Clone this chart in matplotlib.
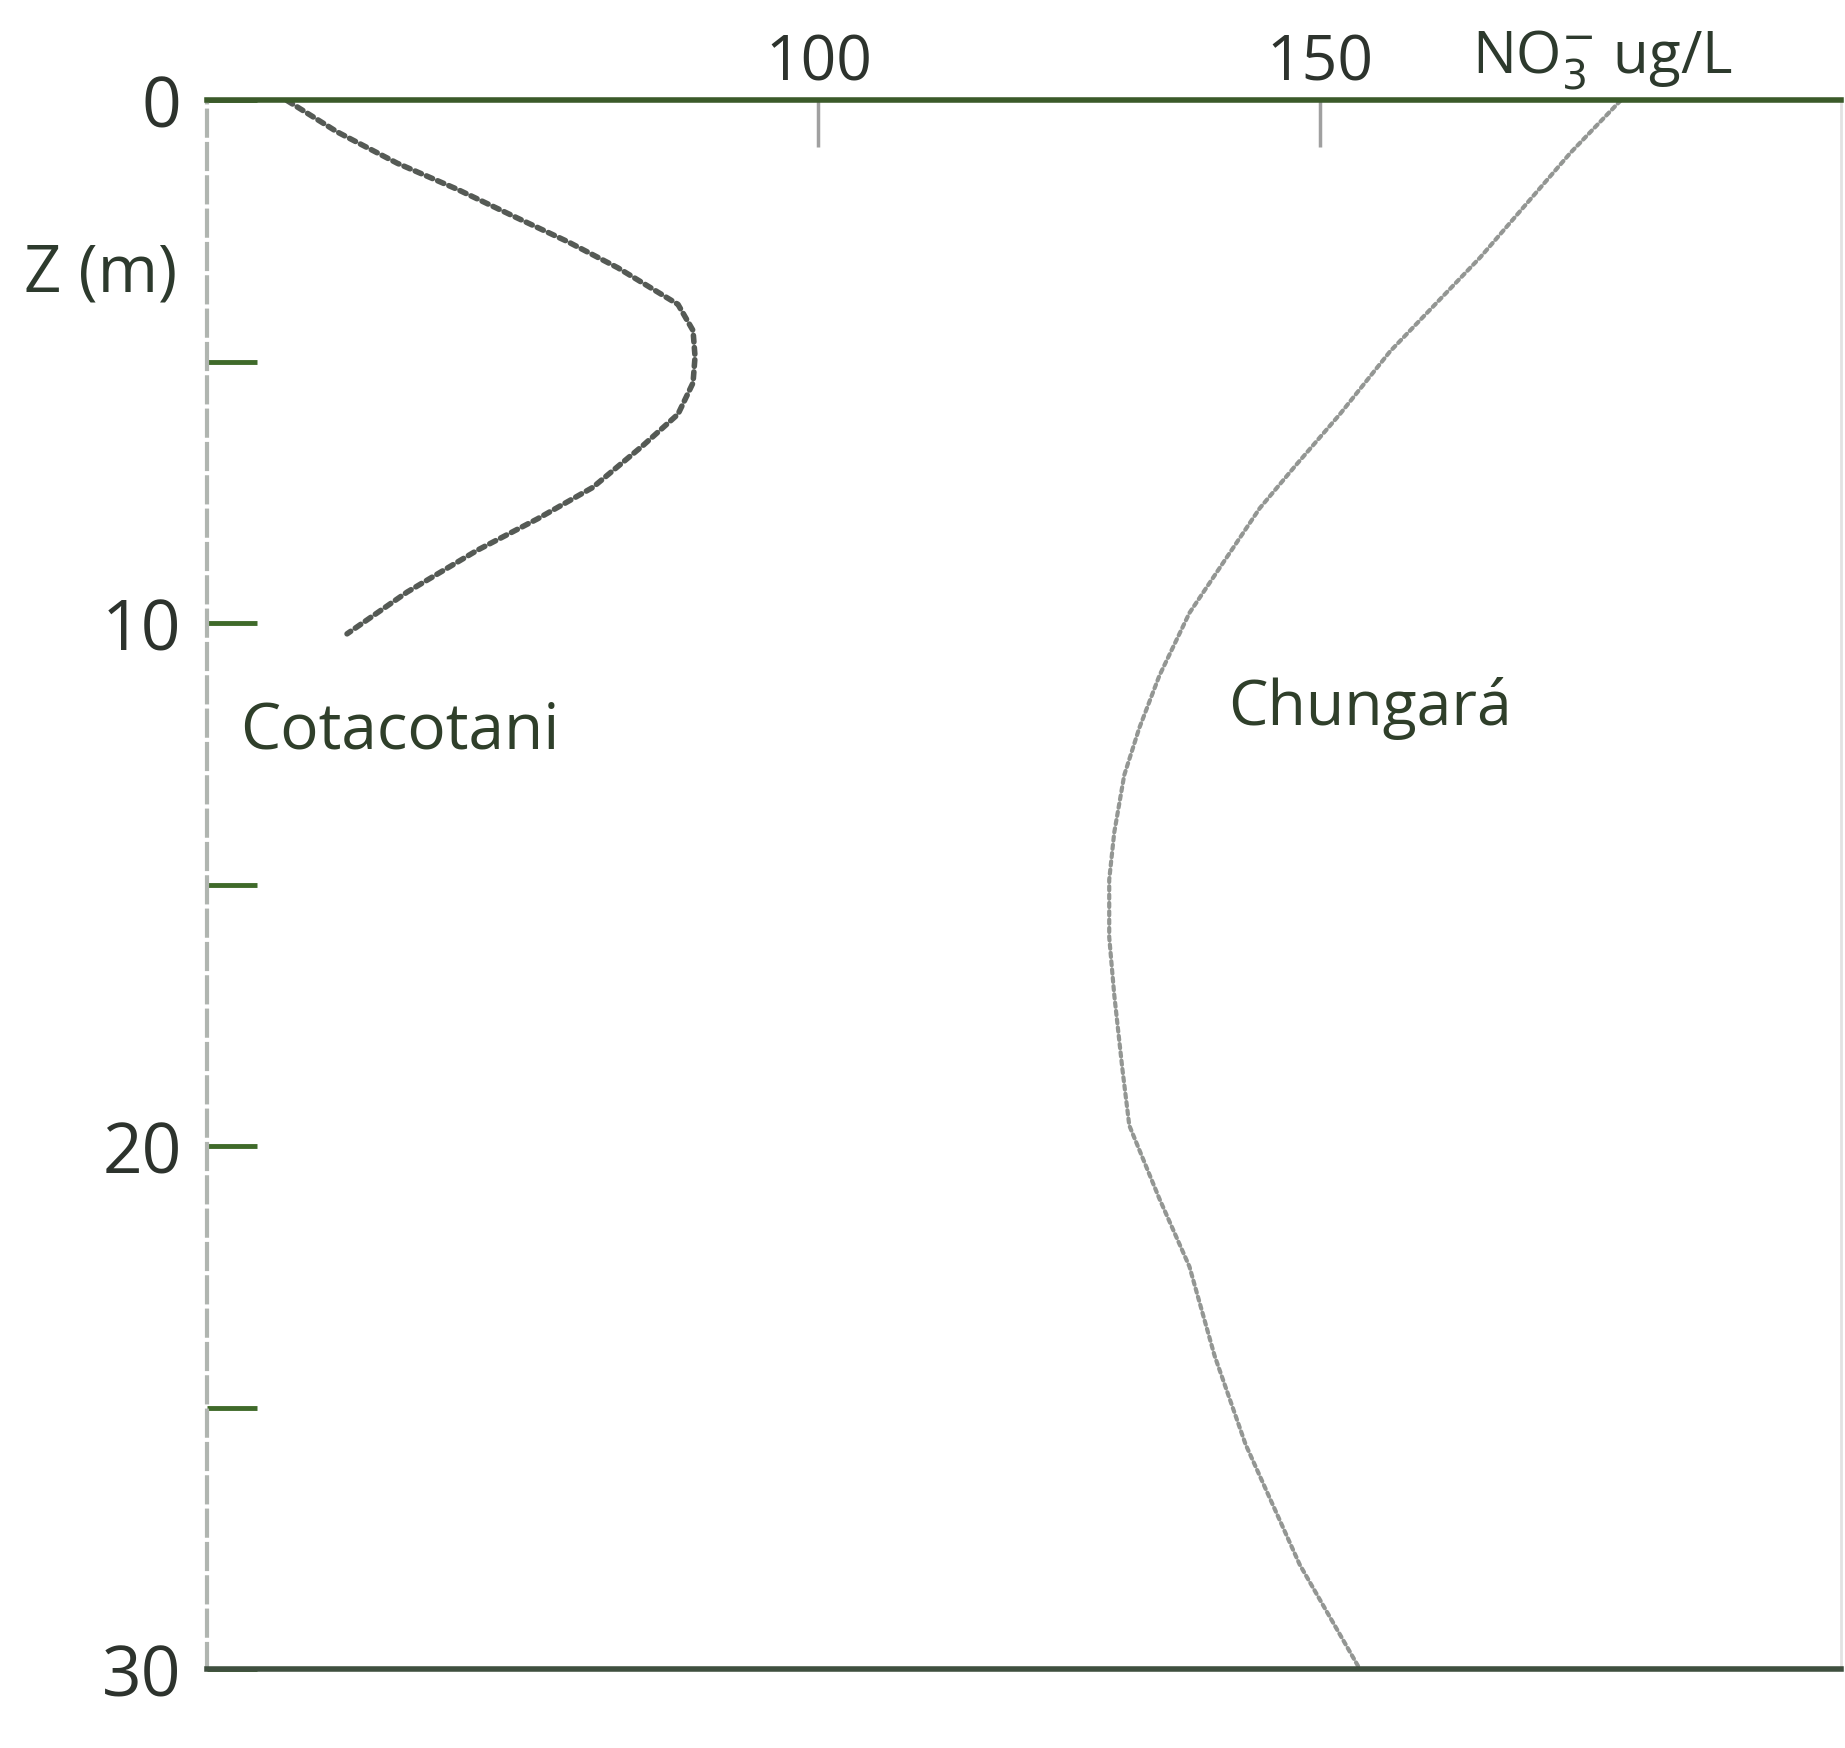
import matplotlib.pyplot as plt

# profundidad (m) y NO3 (ug/L)
cota_z = [0.0, 0.6, 1.2, 1.7, 2.25, 2.7, 3.2, 3.9, 4.4, 4.9, 5.4, 6.0, 6.6, 7.4, 8.0, 8.6, 9.4, 10.2]
cota_no3 = [47, 52, 58, 64, 70, 75, 80, 86, 87.5, 87.7, 87.5, 86, 82.5, 77.5, 72, 66, 59, 53]

chun_z = [0.0, 1.0, 2.0, 3.0, 4.0, 4.8, 6.0, 7.0, 7.8, 8.8, 9.8, 11.0, 12.0, 12.9, 14.0, 14.9, 16.0, 17.1, 18.5, 19.6, 21.0, 22.3, 24.0, 25.7, 28.0, 30.0]
chun_no3 = [180, 175, 170.5, 166, 161, 157, 152, 147.5, 144, 140.5, 137, 134, 132, 130.5, 129.5, 129, 129, 129.5, 130.3, 131, 134, 137, 139.5, 142.6, 148, 154]

ytick_major = [0, 10, 20, 30]
ytick_minor = [5, 15, 25]
xticks = [100, 150]

plt.rcParams['font.family'] = ['Open Sans', 'DejaVu Sans']

fig = plt.figure(figsize=(18.45, 17.49), dpi=100)
ax = fig.add_axes([0.112, 0.045, 0.886, 0.897])

ax.plot(cota_no3, cota_z, color="#555a55", lw=4, linestyle=(0, (1.2, 1.0)), dash_capstyle="round")
ax.plot(chun_no3, chun_z, color="#939693", lw=3, linestyle=(0, (1.0, 1.0)), dash_capstyle="round")

ax.set_xlim(39, 202)
ax.set_ylim(30, 0)

# ejes
ax.spines["top"].set_color("#3b5a2a")
ax.spines["top"].set_linewidth(4)
ax.spines["bottom"].set_color("#3f4f3f")
ax.spines["bottom"].set_linewidth(4)
ax.spines["left"].set_color("#b0b5b0")
ax.spines["left"].set_linewidth(3)
ax.spines["left"].set_linestyle((0, (6, 2)))
ax.spines["right"].set_color("#e2e2e2")
ax.spines["right"].set_linewidth(2)

ax.xaxis.tick_top()
ax.set_xticks(xticks)
ax.set_xticklabels([str(v) for v in xticks])
ax.tick_params(axis="x", direction="in", length=34, width=2.5, color="#a0a0a0",
               labelsize=45, labelcolor="#2d332d", pad=4)

ax.set_yticks(ytick_major)
ax.set_yticks(ytick_minor, minor=True)
ax.set_yticklabels([str(v) for v in ytick_major])
ax.tick_params(axis="y", which="both", direction="in", length=36, width=3.5, color="#3f6a2a",
               labelsize=50, labelcolor="#2d332d", pad=18)

ax.text(-0.065, 0.89, "Z (m)", transform=ax.transAxes, ha="center", va="center",
        fontsize=47, color="#2d3a2d")
ax.text(0.854, 1.026, r"NO$_3^{-}$ ug/L", transform=ax.transAxes, ha="center", va="center",
        fontsize=42, color="#2d3a2d")

ax.text(58.3, 12.05, "Cotacotani", ha="center", va="center", fontsize=46, color="#2f3f2a")
ax.text(155, 11.6, "Chungará", ha="center", va="center", fontsize=45, color="#2f3f2a")

fig.savefig("out.png", dpi=100, facecolor="white")
